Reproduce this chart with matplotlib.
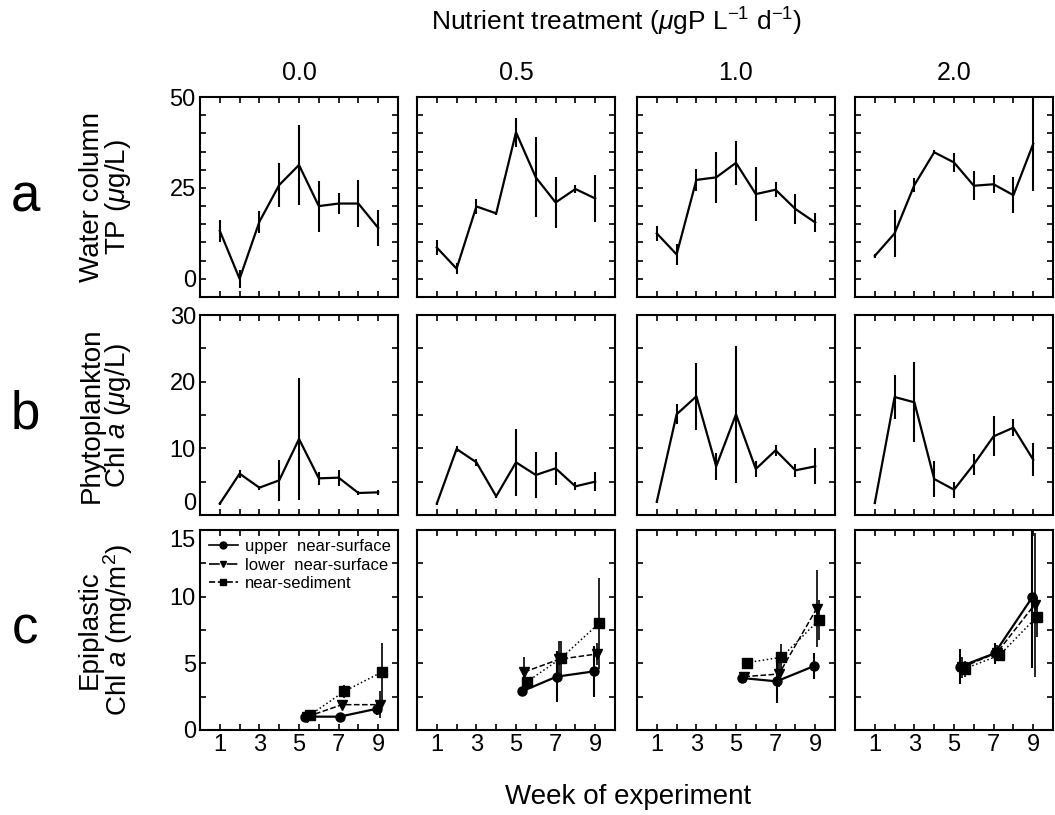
import numpy as np
import matplotlib
matplotlib.use("Agg")
import matplotlib.pyplot as plt
from matplotlib.ticker import MultipleLocator, FixedLocator
from matplotlib.lines import Line2D

plt.rcParams['font.family'] = ['Liberation Sans', 'DejaVu Sans']
plt.rcParams['mathtext.fontset'] = 'custom'
plt.rcParams['mathtext.rm'] = 'Liberation Sans'
plt.rcParams['mathtext.it'] = 'Liberation Sans:italic'

# ---- data ----
treatments = ["0.0", "0.5", "1.0", "2.0"]
weeks = [1, 2, 3, 4, 5, 6, 7, 8, 9]

# a) water column TP (ug/L), one list per treatment
tp_mean = [[13.2, 0.0, 15.7, 25.8, 31.3, 20.0, 20.7, 20.7, 14.0],
           [8.6, 2.8, 19.9, 18.0, 40.3, 27.9, 21.0, 24.7, 22.1],
           [12.5, 6.7, 27.2, 27.9, 31.9, 23.3, 24.5, 19.2, 15.5],
           [6.3, 12.5, 25.8, 34.8, 32.0, 25.6, 26.0, 23.0, 37.1]]
tp_err = [[3.0, 2.5, 3.0, 6.0, 11.0, 7.0, 3.0, 6.5, 5.0],
          [2.0, 1.5, 2.0, 0.5, 4.0, 11.0, 7.0, 1.0, 6.5],
          [2.0, 3.0, 3.0, 7.0, 6.0, 7.5, 2.0, 4.0, 2.5],
          [0.5, 6.5, 2.0, 0.5, 2.5, 4.0, 2.5, 5.0, 13.0]]

# b) phytoplankton chl a (ug/L)
chl_mean = [[1.7, 6.2, 4.1, 5.2, 11.4, 5.5, 5.6, 3.3, 3.4],
            [1.7, 9.9, 7.9, 2.8, 7.9, 6.0, 7.0, 4.3, 5.0],
            [2.0, 15.1, 17.8, 7.3, 15.1, 6.9, 9.7, 6.7, 7.3],
            [1.8, 17.7, 16.9, 5.4, 3.8, 7.6, 11.8, 13.1, 8.3]]
chl_err = [[0.2, 0.6, 0.3, 3.1, 9.2, 1.0, 1.2, 0.3, 0.4],
           [0.2, 0.4, 0.5, 0.3, 5.0, 3.4, 2.5, 0.6, 1.4],
           [0.2, 1.5, 5.0, 2.0, 10.3, 1.2, 0.8, 1.0, 2.7],
           [0.2, 3.3, 6.0, 2.7, 1.2, 1.6, 3.0, 1.3, 2.5]]

# c) epiplastic chl a (mg/m2), sampled weeks 5, 7, 9
epi_weeks = [5.4, 7.15, 9.05]
series = ["upper  near-surface", "lower  near-surface", "near-sediment"]
upper_mean = [[1.0, 1.0, 1.6], [2.9, 4.0, 4.4], [3.9, 3.65, 4.8], [4.75, 5.75, 9.95]]
upper_err = [[0.3, 0.2, 0.5], [0.2, 1.9, 1.9], [0.3, 1.6, 1.0], [1.3, 0.8, 5.3]]
lower_mean = [[1.0, 1.9, 1.9], [4.35, 5.3, 5.7], [4.0, 4.2, 9.1], [4.7, 5.8, 9.4]]
lower_err = [[0.2, 0.3, 1.0], [1.1, 1.4, 0.8], [0.2, 1.0, 2.9], [0.8, 0.6, 5.4]]
sed_mean = [[1.1, 2.9, 4.35], [3.6, 5.4, 8.0], [5.05, 5.45, 8.25], [4.6, 5.6, 8.5]]
sed_err = [[0.3, 0.5, 2.2], [0.4, 1.3, 3.4], [0.2, 1.0, 1.5], [0.6, 0.4, 1.5]]

# ---- figure ----
fig = plt.figure(figsize=(10.55, 8.15), dpi=100)
lefts = [200, 417, 637, 855]
tops = [97, 315, 530]
w, h = 198, 200
W, H = 1055, 815

def style(ax, ylim, major, minor, ylabels, xlabels):
    ax.set_xlim(0, 10)
    ax.set_ylim(*ylim)
    ax.xaxis.set_major_locator(FixedLocator([1, 3, 5, 7, 9]))
    ax.xaxis.set_minor_locator(FixedLocator([2, 4, 6, 8]))
    ax.yaxis.set_major_locator(MultipleLocator(major))
    ax.yaxis.set_minor_locator(MultipleLocator(minor))
    ax.tick_params(which='both', direction='in', top=True, right=True,
                   length=4, width=1.2, labelsize=17, pad=3)
    if not ylabels:
        ax.set_yticklabels([])
    if not xlabels:
        ax.set_xticklabels([])
    for s in ax.spines.values():
        s.set_linewidth(1.5)

axes = []
for r in range(3):
    row = []
    for c in range(4):
        ax = fig.add_axes([lefts[c] / W, 1 - (tops[r] + h) / H, w / W, h / H])
        row.append(ax)
    axes.append(row)

ekw = dict(color='black', lw=1.6, elinewidth=1.5, capsize=0)
for c in range(4):
    ax = axes[0][c]
    ax.errorbar(weeks, tp_mean[c], yerr=tp_err[c], **ekw)
    style(ax, (-5, 50), 25, 5, c == 0, False)
    ax.set_title(treatments[c], fontsize=18, pad=12)

    ax = axes[1][c]
    ax.errorbar(weeks, chl_mean[c], yerr=chl_err[c], **ekw)
    style(ax, (0, 30), 10, 5, c == 0, False)

    ax = axes[2][c]
    ax.errorbar(np.array(epi_weeks) - 0.1, upper_mean[c], yerr=upper_err[c],
                fmt='-o', ms=6.5, **ekw)
    ax.errorbar(np.array(epi_weeks) + 0.02, lower_mean[c], yerr=lower_err[c],
                fmt='--v', ms=6.5, color='black', lw=1.1, elinewidth=1.2, capsize=0)
    ax.errorbar(np.array(epi_weeks) + 0.14, sed_mean[c], yerr=sed_err[c],
                fmt=':s', ms=6.5, color='black', lw=1.1, elinewidth=1.2, capsize=0)
    style(ax, (0, 15), 5, 2.5, c == 0, True)

handles = [Line2D([], [], color='black', ls='-', marker='o', ms=5, lw=1.2),
           Line2D([], [], color='black', ls='-.', marker='v', ms=5, lw=1.2),
           Line2D([], [], color='black', ls='--', marker='s', ms=5, lw=1.2)]
axes[2][0].legend(handles, series, loc='upper left', frameon=False,
                  fontsize=12, handlelength=1.7, handletextpad=0.45,
                  borderaxespad=0.25, labelspacing=0.2, borderpad=0.3)

fig.text(617 / W, 1 - 22 / H, r"Nutrient treatment ($\mu$gP L$^{\mathregular{-1}}$ d$^{\mathregular{-1}}$)",
         ha='center', va='center', fontsize=19)
fig.text(628 / W, 1 - 797 / H, "Week of experiment", ha='center', va='center', fontsize=20)

ylabels = [r"Water column" + "\n" + r"TP ($\mu$g/L)",
           r"Phytoplankton" + "\n" + r"Chl $a$ ($\mu$g/L)",
           r"Epiplastic" + "\n" + r"Chl $a$ (mg/m$^{\mathregular{2}}$)"]
letters = ["a", "b", "c"]
for r in range(3):
    yc = 1 - (tops[r] + h / 2) / H
    fig.text(106 / W, yc, ylabels[r], rotation=90, ha='center', va='center',
             fontsize=20, linespacing=0.92)
    fig.text(25 / W, yc, letters[r], ha='center', va='center', fontsize=38)

# keep the row b "0" and row c "15" labels from running into each other
fig.canvas.draw()
for lab in axes[1][0].get_yticklabels():
    if lab.get_text() == "0":
        lab.set_va('bottom')
for lab in axes[2][0].get_yticklabels():
    if lab.get_text() == "15":
        lab.set_va('top')

fig.savefig("out.png", dpi=100)
